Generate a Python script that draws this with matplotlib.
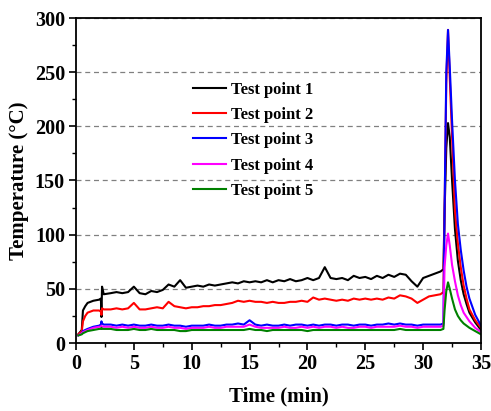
import matplotlib
matplotlib.use('Agg')
import matplotlib.pyplot as plt
from matplotlib.ticker import MultipleLocator

# -----------------------------
# Data (time in min, temperature in degC)
time_min = [0.2, 0.5, 0.6, 0.8, 1.0, 1.5, 2.0, 2.15, 2.2, 2.25, 2.4,
            3.0, 3.5, 4.0, 4.5, 5.0, 5.5, 6.0, 6.5, 7.0, 7.5,
            8.0, 8.5, 9.0, 9.5, 10.0, 10.5, 11.0, 11.5, 12.0, 12.5,
            13.0, 13.5, 14.0, 14.5, 15.0, 15.5, 16.0, 16.5, 17.0, 17.5,
            18.0, 18.5, 19.0, 19.5, 20.0, 20.5, 21.0, 21.5, 22.0, 22.5,
            23.0, 23.5, 24.0, 24.5, 25.0, 25.5, 26.0, 26.5, 27.0, 27.5,
            28.0, 28.5, 29.0, 29.5, 30.0, 30.5, 31.0, 31.5,
            31.75, 31.85, 32.0, 32.15, 32.3, 32.5, 32.75, 33.0, 33.25, 33.5, 33.75, 34.0, 34.5, 35.0]

point1 = [8, 12, 30, 34, 37, 39, 40, 41, 24, 52, 45,
          46, 47, 46, 47, 52, 46, 45, 48, 47, 49,
          54, 52, 58, 51, 52, 53, 52, 54, 53, 54,
          55, 56, 55, 57, 56, 57, 56, 58, 56, 58,
          57, 59, 57, 58, 60, 58, 60, 70, 60, 59,
          60, 58, 62, 60, 61, 59, 62, 60, 63, 61,
          64, 63, 57, 52, 60, 62, 64, 66,
          68, 120, 180, 203, 190, 150, 105, 76, 58, 45, 36, 28, 19, 12]

point2 = [8, 11, 20, 25, 28, 30, 30, 29, 26, 32, 31,
          31, 32, 31, 32, 37, 31, 31, 32, 33, 32,
          38, 34, 33, 32, 33, 33, 34, 34, 35, 35,
          36, 37, 39, 38, 39, 38, 38, 37, 38, 37,
          37, 38, 38, 39, 38, 42, 40, 41, 40, 39,
          40, 39, 41, 40, 41, 40, 41, 40, 42, 41,
          44, 43, 41, 37, 40, 43, 44, 45,
          47, 120, 240, 289, 245, 190, 122, 92, 70, 53, 41, 31, 21, 14]

point3 = [7, 9, 11, 12, 13, 15, 16, 17, 20, 18, 17,
          17, 16, 17, 16, 17, 16, 16, 17, 16, 16,
          17, 16, 16, 15, 16, 16, 16, 17, 16, 16,
          17, 17, 18, 17, 21, 17, 16, 17, 16, 16,
          17, 16, 17, 17, 16, 17, 16, 17, 17, 16,
          17, 17, 16, 17, 17, 16, 17, 17, 18, 17,
          18, 17, 17, 16, 17, 17, 17, 17,
          18, 120, 250, 289, 255, 205, 150, 110, 86, 67, 52, 41, 26, 16]

point4 = [7, 9, 10, 11, 12, 14, 15, 15, 16, 15, 15,
          15, 14, 15, 14, 15, 14, 14, 15, 14, 14,
          15, 14, 14, 13, 14, 14, 14, 15, 14, 14,
          15, 15, 15, 15, 17, 15, 14, 14, 14, 14,
          15, 14, 14, 15, 14, 15, 14, 15, 15, 14,
          15, 14, 14, 15, 15, 14, 15, 15, 15, 15,
          16, 15, 15, 14, 15, 15, 15, 15,
          16, 70, 90, 101, 90, 72, 57, 44, 35, 28, 24, 20, 14, 10]

point5 = [7, 8, 9, 10, 11, 12, 13, 13, 14, 13, 13,
          13, 12, 12, 12, 13, 12, 12, 13, 12, 12,
          12, 12, 11, 11, 12, 12, 12, 12, 12, 12,
          12, 12, 12, 12, 13, 12, 12, 11, 12, 12,
          12, 12, 12, 12, 11, 12, 12, 12, 12, 12,
          12, 12, 12, 12, 12, 12, 12, 12, 12, 12,
          13, 12, 12, 12, 12, 12, 12, 12,
          13, 30, 48, 56, 50, 41, 31, 25, 21, 18, 16, 14, 11, 8]

labels = ['Test point 1', 'Test point 2', 'Test point 3', 'Test point 4', 'Test point 5']
colors = ['black', 'red', 'blue', 'magenta', 'green']

# -----------------------------
# Plotting
plt.rcParams['font.family'] = ['Liberation Serif', 'DejaVu Serif']
plt.rcParams['font.weight'] = 'bold'

fig = plt.figure(figsize=(4.91, 4.11), dpi=100)
ax = fig.add_axes([76 / 491, 68 / 411, 405 / 491, 325 / 411])

for series, lab, col in zip([point1, point2, point3, point4, point5], labels, colors):
    ax.plot(time_min, series, color=col, lw=1.5, label=lab)

ax.set_xlim(0, 35)
ax.set_ylim(0, 300)
ax.xaxis.set_major_locator(MultipleLocator(5))
ax.xaxis.set_minor_locator(MultipleLocator(2.5))
ax.yaxis.set_major_locator(MultipleLocator(50))
ax.yaxis.set_minor_locator(MultipleLocator(25))
ax.tick_params(which='major', direction='out', length=5, width=1.2, labelsize=14.5, pad=3)
ax.tick_params(which='minor', direction='out', length=3, width=1.0)
for s in ax.spines.values():
    s.set_linewidth(1.3)

ax.yaxis.grid(True, which='major', linestyle='--', color='gray', lw=0.9, dashes=(4, 3))
ax.set_axisbelow(True)

ax.set_xlabel('Time (min)', fontsize=15, fontweight='bold', labelpad=9)
ax.set_ylabel('Temperature (°C)', fontsize=15, fontweight='bold', labelpad=4)

ax.legend(loc='upper left', bbox_to_anchor=(193 / 491, 1 - 82 / 411),
          bbox_transform=fig.transFigure, frameon=False, borderpad=0, borderaxespad=0,
          prop={'size': 12, 'weight': 'bold'}, handlelength=2.0, handletextpad=0.3,
          labelspacing=0.55)

fig.savefig('out.png', dpi=100)
